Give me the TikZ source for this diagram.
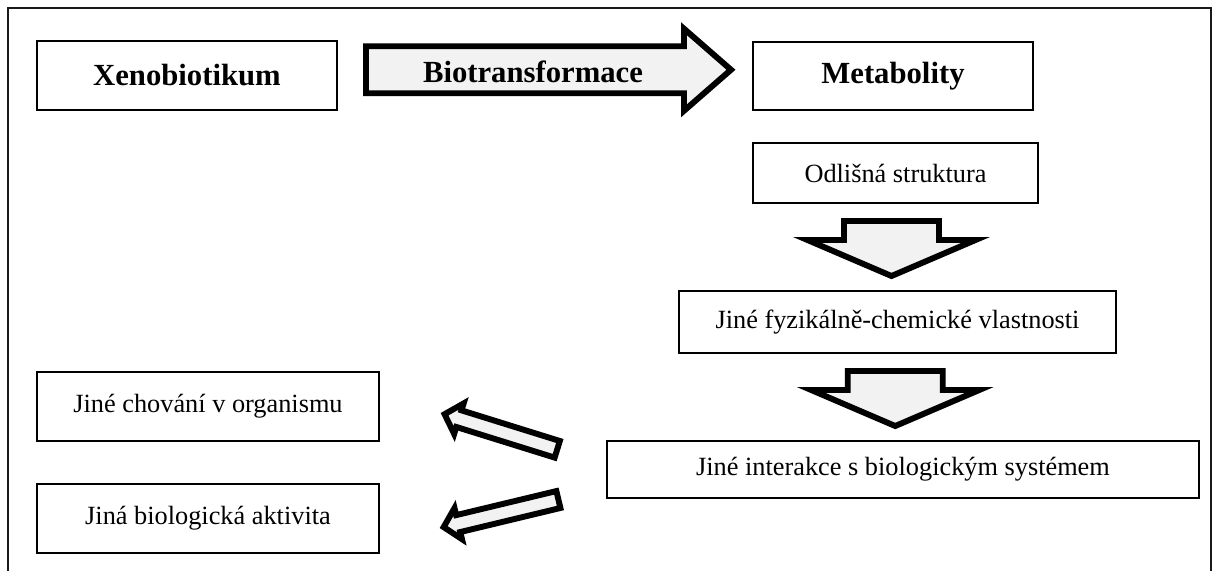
\documentclass[tikz,border=0pt]{standalone}
\usepackage{fontspec}
\setmainfont{Liberation Serif}
\usetikzlibrary{positioning,calc}
\definecolor{frameink}{HTML}{1A1A1A}
\definecolor{arrowfill}{HTML}{F2F2F2}
\newcommand{\upx}{0.456pt}

\tikzset{
  box/.style={draw, line width=0.7pt, inner sep=2pt, align=center, font=\fontsize{12}{14}\selectfont},
  titlebox/.style={box, font=\fontsize{14}{17}\selectfont\bfseries},
  size/.style 2 args={minimum width=#1*\upx, minimum height=#2*\upx},
  blockarrow/.style={draw, line width=2.7pt, fill=arrowfill, line join=miter}
}

\begin{document}
\begin{tikzpicture}[x=0.456pt,y=-0.456pt]
  \useasboundingbox (0,0) rectangle (1219,570);
  \clip (0,0) rectangle (1219,570);
  \draw[frameink, line width=0.9pt] (8,580) |- (1211,8) -- (1211,580);

  % top row
  \node[titlebox, size={300}{69}] (xeno) at (187,75.5) {Xenobiotikum};
  \node[titlebox, size={280}{68}] (metab) at (893,76) {Metabolity};
  \coordinate (bioc) at ($(xeno.east)!0.5!(metab.west)+(4,-6)$);
  \draw[blockarrow, shift={(bioc)}] (-183,-23.5) -- (135,-23.5) -- (135,-41) -- (182,0)
    -- (135,41) -- (135,23.5) -- (-183,23.5) -- cycle;
  \node[font=\fontsize{14}{17}\selectfont\bfseries] (biolab) at ($(bioc)+(-16,2)$) {Biotransformace};

  % right column
  \node[box, size={285}{60}] (odl) at (895.5,173) {Odlišná struktura};
  \node[box, size={437}{62}] (fyz) at (897.5,322) {Jiné fyzikálně-chemické vlastnosti};
  \node[box, size={592}{57}] (inter) at (903,469.5) {Jiné interakce s biologickým systémem};
  \foreach \a/\b in {odl/fyz, fyz/inter}
    \draw[blockarrow, shift={($(\a.south)!0.5!(\b.north)+(-5,0)$)}] (-47.5,-26) -- (47.5,-26)
      -- (47.5,-7) -- (84,-7) -- (0,29) -- (-84,-7) -- (-47.5,-7) -- cycle;

  % left column
  \node[box, size={342}{69}] (chov) at (208,406.5) {Jiné chování v organismu};
  \node[box, size={342}{69}] (biol) at (208,518.5) {Jiná biologická aktivita};
  \coordinate (tipchov) at ($(chov.east)+(61,6.5)$);
  \coordinate (tipbiol) at ($(biol.east)+(60,9.5)$);
  \foreach \t/\ang in {tipchov/-17.3, tipbiol/13.5}
    \draw[blockarrow, shift={(\t)}, rotate=\ang] (4,0) -- (19,-16) -- (19,-8.7) -- (122,-8.7)
      -- (122,8.7) -- (19,8.7) -- (19,16) -- cycle;
\end{tikzpicture}
\end{document}
